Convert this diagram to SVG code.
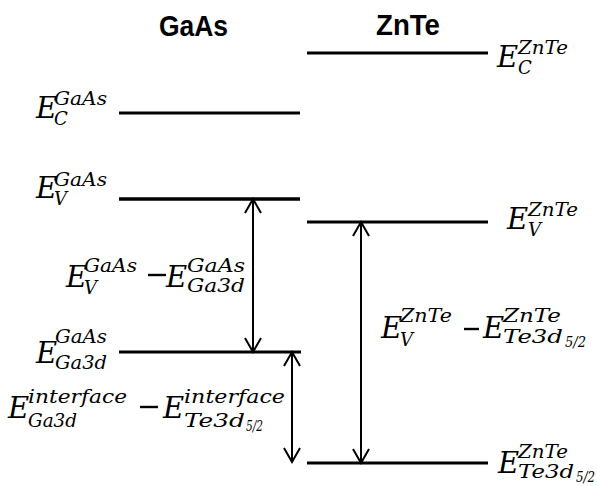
<svg xmlns="http://www.w3.org/2000/svg" width="597" height="486" viewBox="0 0 597 486">
<defs>
<style>
.lvl{stroke:#000;stroke-width:3;fill:none}
.arr{stroke:#000;stroke-width:2;fill:none;marker-start:url(#ah);marker-end:url(#ah)}
.hdr{font-family:"Liberation Sans",Arial,sans-serif;font-weight:bold;font-size:30px;fill:#000}
.m{font-family:"DejaVu Serif",serif;font-style:italic;fill:#000}
.E{font-size:29px}
.s{font-size:18px}
.ss{font-size:14px}
.mi{stroke:#000;stroke-width:2.4;fill:none}
</style>
<marker id="ah" viewBox="-16 -10 18 20" refX="0" refY="0" markerWidth="18" markerHeight="20" markerUnits="userSpaceOnUse" orient="auto-start-reverse">
<path d="M-14,-8 L0,0 L-14,8" fill="none" stroke="#000" stroke-width="2"/>
</marker>
</defs>
<rect width="597" height="486" fill="#fff"/>

<g id="headers">
<text class="hdr" x="159" y="36" textLength="69" lengthAdjust="spacingAndGlyphs">GaAs</text>
<text class="hdr" x="376" y="35" textLength="64" lengthAdjust="spacingAndGlyphs">ZnTe</text>
</g>

<g id="gaas-ec">
<line class="lvl" x1="119" y1="113" x2="300" y2="113"/>
<text class="m E" x="36" y="118">E</text>
<text class="m s" x="54" y="105" textLength="53" lengthAdjust="spacingAndGlyphs">GaAs</text>
<text class="m s" x="54" y="125">C</text>
</g>

<g id="znte-ec">
<line class="lvl" x1="307" y1="53" x2="488" y2="53"/>
<text class="m E" x="497" y="67">E</text>
<text class="m s" x="518" y="54" textLength="50" lengthAdjust="spacingAndGlyphs">ZnTe</text>
<text class="m s" x="518" y="74">C</text>
</g>

<g id="gaas-ev">
<line class="lvl" x1="119" y1="199" x2="300" y2="199" style="stroke-width:3.5"/>
<text class="m E" x="36" y="198">E</text>
<text class="m s" x="54" y="186" textLength="53" lengthAdjust="spacingAndGlyphs">GaAs</text>
<text class="m s" x="54" y="205">V</text>
</g>

<g id="znte-ev">
<line class="lvl" x1="307" y1="222" x2="488" y2="222"/>
<text class="m E" x="507" y="229">E</text>
<text class="m s" x="528" y="216" textLength="50" lengthAdjust="spacingAndGlyphs">ZnTe</text>
<text class="m s" x="528" y="236">V</text>
</g>

<g id="gaas-ga3d">
<line class="lvl" x1="119" y1="352" x2="301" y2="352"/>
<text class="m E" x="36" y="363">E</text>
<text class="m s" x="55" y="343" textLength="52" lengthAdjust="spacingAndGlyphs">GaAs</text>
<text class="m s" x="55" y="369" textLength="52" lengthAdjust="spacingAndGlyphs">Ga3d</text>
</g>

<g id="znte-te3d">
<line class="lvl" x1="307" y1="463" x2="488" y2="463"/>
<text class="m E" x="498" y="473">E</text>
<text class="m s" x="518" y="458" textLength="50" lengthAdjust="spacingAndGlyphs">ZnTe</text>
<text class="m s" x="518" y="478" textLength="56" lengthAdjust="spacingAndGlyphs">Te3d</text>
<text class="m ss" x="576" y="482" textLength="19" lengthAdjust="spacingAndGlyphs">5/2</text>
</g>

<g id="connectors">
<line class="arr" x1="253" y1="199" x2="253" y2="352"/>
<line class="arr" x1="361" y1="222" x2="361" y2="463"/>
<line class="arr" x1="292" y1="352" x2="292" y2="462"/>
</g>

<g id="label-gaas-diff">
<text class="m E" x="66" y="287">E</text>
<text class="m s" x="84" y="272" textLength="53" lengthAdjust="spacingAndGlyphs">GaAs</text>
<text class="m s" x="84" y="294">V</text>
<line class="mi" x1="148" y1="275" x2="166" y2="275"/>
<text class="m E" x="166" y="287">E</text>
<text class="m s" x="187" y="272" textLength="58" lengthAdjust="spacingAndGlyphs">GaAs</text>
<text class="m s" x="187" y="292" textLength="58" lengthAdjust="spacingAndGlyphs">Ga3d</text>
</g>

<g id="label-znte-diff">
<text class="m E" x="381" y="338">E</text>
<text class="m s" x="400" y="322" textLength="52" lengthAdjust="spacingAndGlyphs">ZnTe</text>
<text class="m s" x="400" y="346">V</text>
<line class="mi" x1="464" y1="329" x2="479" y2="329"/>
<text class="m E" x="483" y="338">E</text>
<text class="m s" x="503" y="322" textLength="58" lengthAdjust="spacingAndGlyphs">ZnTe</text>
<text class="m s" x="503" y="343" textLength="60" lengthAdjust="spacingAndGlyphs">Te3d</text>
<text class="m ss" x="565" y="347" textLength="21" lengthAdjust="spacingAndGlyphs">5/2</text>
</g>

<g id="label-interface-diff">
<text class="m E" x="8" y="418">E</text>
<text class="m s" x="28" y="403" textLength="99" lengthAdjust="spacingAndGlyphs">interface</text>
<text class="m s" x="28" y="427" textLength="49" lengthAdjust="spacingAndGlyphs">Ga3d</text>
<line class="mi" x1="140" y1="407" x2="158" y2="407"/>
<text class="m E" x="163" y="418">E</text>
<text class="m s" x="184" y="403" textLength="101" lengthAdjust="spacingAndGlyphs">interface</text>
<text class="m s" x="184" y="427" textLength="61" lengthAdjust="spacingAndGlyphs">Te3d</text>
<text class="m ss" x="246" y="431" textLength="17" lengthAdjust="spacingAndGlyphs">5/2</text>
</g>
</svg>
